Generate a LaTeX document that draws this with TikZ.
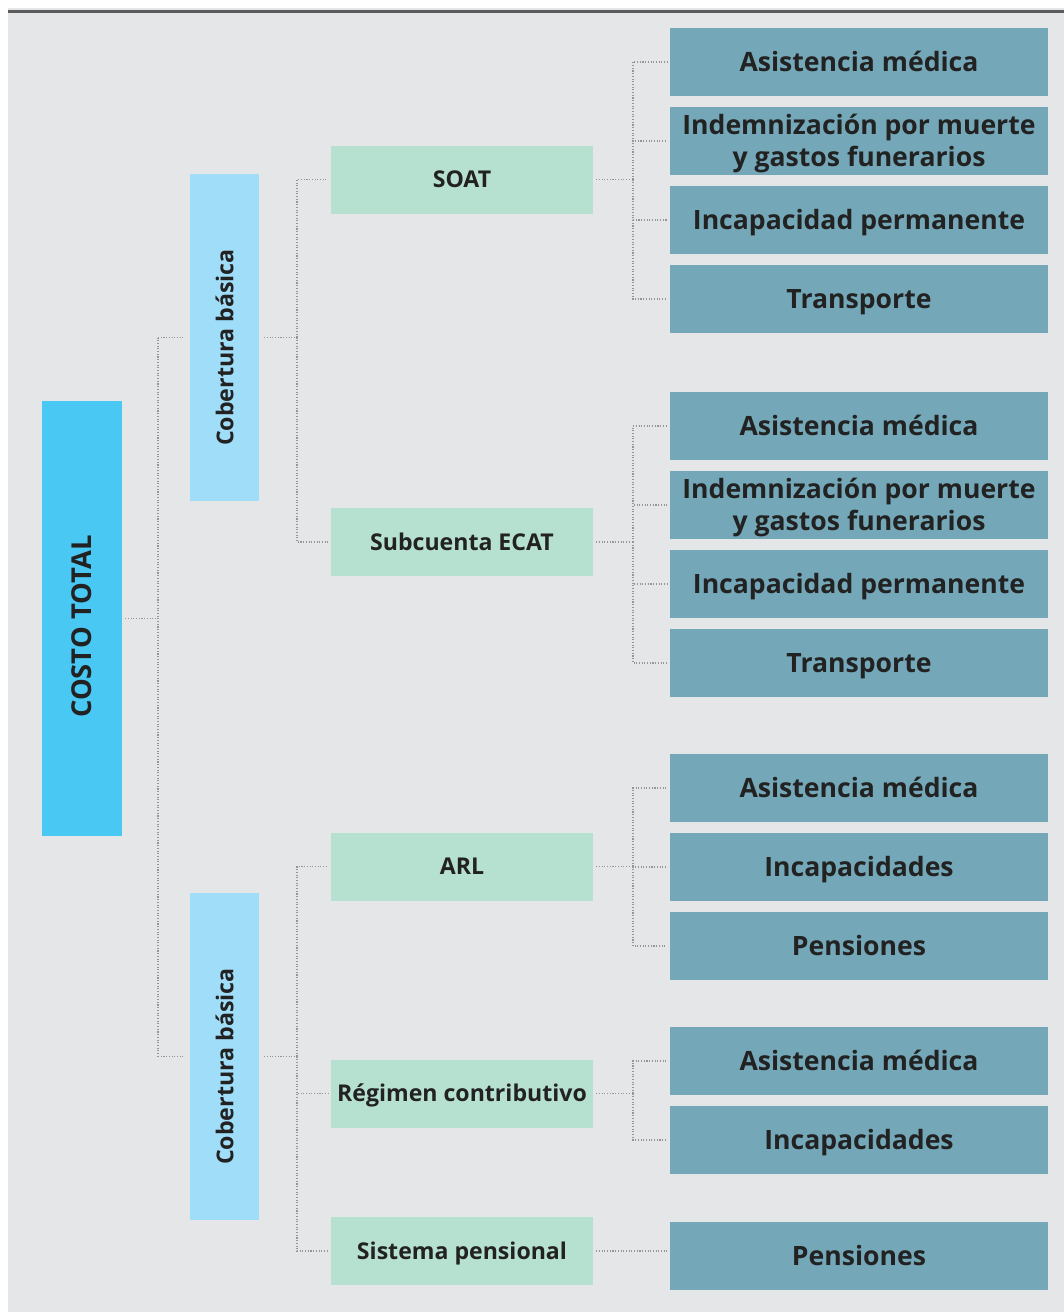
\documentclass[tikz,border=0pt]{standalone}
\usepackage{fontspec}
\setmainfont{Open Sans}
\definecolor{bgc}{HTML}{E5E6E8}
\definecolor{topline}{HTML}{5C5C5C}
\definecolor{costoc}{HTML}{49C8F4}
\definecolor{cobc}{HTML}{A0DDF8}
\definecolor{greenc}{HTML}{B6E0D0}
\definecolor{tealc}{HTML}{74A8B8}
\definecolor{dotc}{HTML}{959595}
\definecolor{txtc}{HTML}{222222}
\tikzset{
  base/.style={rectangle, inner sep=0pt, text=txtc, font=\bfseries},
  costobox/.style={base, fill=costoc, minimum width=80pt, minimum height=435pt, font=\bfseries\fontsize{27.4}{32}\selectfont},
  cobbox/.style={base, fill=cobc, minimum width=69pt, minimum height=327pt, font=\bfseries\fontsize{23.2}{28}\selectfont},
  greenbox/.style={base, fill=greenc, minimum width=262pt, minimum height=68pt, text height=16.5pt, text depth=0pt, font=\bfseries\fontsize{23.1}{28}\selectfont},
  tealbox/.style={base, fill=tealc, minimum width=378pt, minimum height=68pt, align=center, text height=19pt, text depth=0pt, font=\bfseries\fontsize{26.6}{32}\selectfont},
  tealtwo/.style={tealbox, text height=51pt, text depth=0pt},
  conn/.style={draw=dotc, line width=1.3pt, dash pattern=on 1.1pt off 1.6pt},
}
\begin{document}
\begin{tikzpicture}[x=1pt,y=-1pt]
\useasboundingbox (0,0) rectangle (1064,1312);
\fill[bgc] (8,8) rectangle (1064,1312);
\fill[topline] (8,10) rectangle (1064,12.5);

% bus coordinates
\coordinate (bA) at (158,0);
\coordinate (bB) at (297,0);
\coordinate (bC) at (633,0);

\node[costobox] (costo) at (82,618.5) {\rotatebox{90}{\hspace*{-16pt}COSTO TOTAL}};
\node[cobbox] (cob1) at (224.5,337.5) {\rotatebox{90}{\hspace*{-20pt}Cobertura básica}};
\node[cobbox] (cob2) at (224.5,1056.5) {\rotatebox{90}{\hspace*{-20pt}Cobertura básica}};

\node[greenbox] (soat) at (462,179.5) {SOAT};
\node[greenbox] (ecat) at (462,542) {Subcuenta ECAT};
\node[greenbox] (arl) at (462,866.5) {ARL};
\node[greenbox] (reg) at (462,1093.5) {Régimen contributivo};
\node[greenbox] (sis) at (462,1251) {Sistema pensional};

\node[tealbox] (t1) at (859,62) {Asistencia médica};
\node[tealtwo] (t2) at (859,141) {Indemnización por muerte\\y gastos funerarios};
\node[tealbox] (t3) at (859,220) {Incapacidad permanente};
\node[tealbox] (t4) at (859,299) {Transporte};

\node[tealbox] (t5) at (859,426) {Asistencia médica};
\node[tealtwo] (t6) at (859,505) {Indemnización por muerte\\y gastos funerarios};
\node[tealbox] (t7) at (859,584) {Incapacidad permanente};
\node[tealbox] (t8) at (859,663) {Transporte};

\node[tealbox] (t9) at (859,788) {Asistencia médica};
\node[tealbox] (t10) at (859,867) {Incapacidades};
\node[tealbox] (t11) at (859,946) {Pensiones};

\node[tealbox] (t12) at (859,1061) {Asistencia médica};
\node[tealbox] (t13) at (859,1140) {Incapacidades};

\node[tealbox] (t14) at (859,1256) {Pensiones};

% connectors level 1
\draw[conn, shorten <=3pt] (costo.east) -- (costo.east -| bA);
\foreach \c in {cob1,cob2}
  \draw[conn, shorten >=5pt] (bA |- \c.west) -- (\c.west);
\draw[conn] (bA |- cob1.west) -- (bA |- cob2.west);

% level 2
\foreach \p/\cs in {cob1/{soat,ecat}, cob2/{arl,reg,sis}}{
  \draw[conn, shorten <=5pt, shorten >=3pt] (\p.east) -- (\p.east -| bB);
  \foreach \c in \cs
    \draw[conn, shorten >=3pt] (\p.east -| bB) |- (\c.west);
}

% level 3
\foreach \p/\cs in {soat/{t1,t2,t3,t4}, ecat/{t5,t6,t7,t8}, arl/{t9,t10,t11}, reg/{t12,t13}}{
  \draw[conn, shorten <=3pt, shorten >=2pt] (\p.east) -- (\p.east -| bC);
  \foreach \c in \cs
    \draw[conn, shorten >=3pt] (\p.east -| bC) |- (\c.west);
}
\draw[conn, shorten <=3pt, shorten >=3pt] (sis.east) -- (sis.east -| t14.west);
\end{tikzpicture}
\end{document}
